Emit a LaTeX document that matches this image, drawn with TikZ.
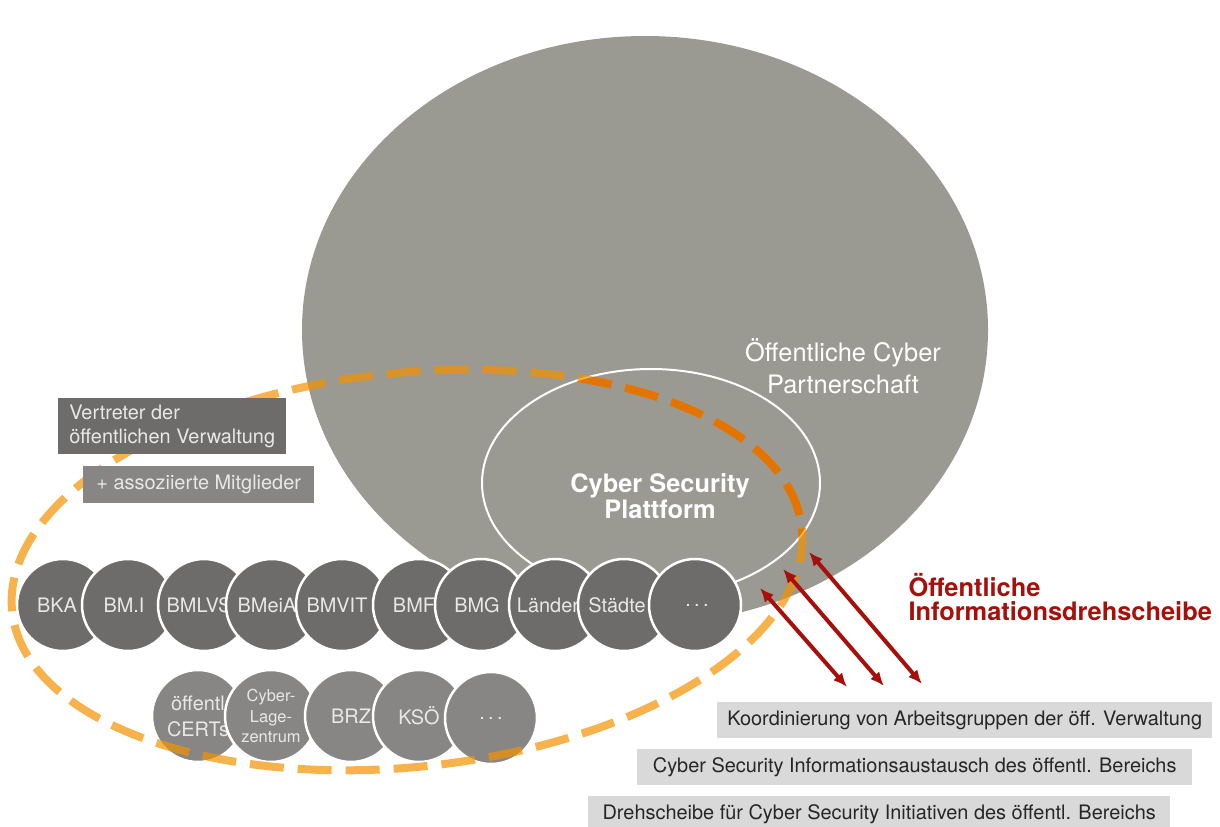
\documentclass[tikz,border=0pt]{standalone}
\usepackage{fontspec}
\setmainfont{TeX Gyre Heros}
\usetikzlibrary{shapes.geometric,arrows.meta,positioning}

\definecolor{partnergray}{RGB}{154,153,146}
\definecolor{memberdark}{RGB}{109,108,106}
\definecolor{memberlight}{RGB}{135,134,132}
\definecolor{membertext}{RGB}{232,232,230}
\definecolor{taskgray}{RGB}{217,217,217}
\definecolor{hubred}{RGB}{168,15,10}
\definecolor{ringorange}{RGB}{243,146,0}
\definecolor{ringdeep}{RGB}{227,116,0}

\tikzset{
  member/.style={circle, fill=memberdark, draw=white, line width=2.5bp,
    minimum size=92bp, inner sep=0pt, text=membertext, align=center,
    font=\fontsize{20}{24}\selectfont},
  associate/.style={member, fill=memberlight},
  membertag/.style={text=membertext, inner sep=0pt, font=\fontsize{20}{24}\selectfont},
  ring/.style={line width=8bp, dash pattern=on 34bp off 14bp},
  rolebox/.style={fill=memberdark, text=membertext, inner sep=0pt,
    font=\fontsize{20}{24}\selectfont},
  taskbox/.style={fill=taskgray, text=black!85, inner sep=0pt,
    minimum height=36bp, font=\fontsize{20}{22}\selectfont},
  hubarrow/.style={draw=hubred, line width=4bp,
    {Latex[length=14bp,width=12bp]}-{Latex[length=14bp,width=12bp]}}
}

\begin{document}
\begin{tikzpicture}[x=1bp, y=-1bp]
\useasboundingbox (0,0) rectangle (1220,827);

% Partnerschaft
\node[ellipse, fill=partnergray, minimum width=686bp, minimum height=588bp,
  inner sep=0pt] (partner) at (645,330) {};
\node[text=white, align=center, font=\fontsize{25.5}{32}\selectfont]
  (partnerlabel) at (843,366) {Öffentliche Cyber\\Partnerschaft};

% Plattform
\node[ellipse, draw=white, line width=2bp, fill=partnergray,
  minimum width=338bp, minimum height=228bp, inner sep=0pt]
  (platform) at (651,483) {};
\node[text=white, align=center, font=\bfseries\fontsize{25.5}{26}\selectfont]
  (platformlabel) at (660,496) {Cyber Security\\Plattform};

% Mitglieder
\foreach \x/\dx/\name/\txt in {63/-6/bka/BKA, 128/-4/bmi/BM.I, 204/-5/bmlvs/BMLVS,
    272/-5/bmeia/BMeiA, 342/-5/bmvit/BMVIT, 419/-5/bmf/BMF, 481/-4/bmg/BMG,
    555/-7/laender/Länder, 624/-7/staedte/Städte, 695/2/more/{.\,.\,.}}
{
  \node[member] (\name) at (\x,605) {};
  \node[membertag] (\name-tag) at (\x+\dx,605) {\txt};
}

% assoziierte Mitglieder
\node[associate, font=\fontsize{20}{26}\selectfont] (certs) at (198,716) {öffentl\\CERTs};
\node[associate, font=\fontsize{16.5}{21}\selectfont] (lage) at (271,716) {Cyber-\\Lage-\\zentrum};
\node[associate] (brz) at (351,716) {BRZ};
\node[associate] (kso) at (419,716) {KSÖ};
\node[associate] (moreassoc) at (491,718) {.\,.\,.};

% Ring
\draw[ring, draw=ringorange, draw opacity=0.7, rotate around={6:(407,570)}]
  (407,570) ellipse [x radius=397, y radius=197];
\begin{scope}
  \clip (651,483) ellipse [x radius=168, y radius=113];
  \draw[ring, draw=ringdeep, rotate around={6:(407,570)}]
    (407,570) ellipse [x radius=397, y radius=197];
\end{scope}

% Vertreter
\node[rolebox, anchor=north west, minimum width=228bp, minimum height=56bp,
  align=left] (rep) at (58,398) {Vertreter der\\öffentlichen Verwaltung};
\node[rolebox, fill=memberlight, anchor=north west, minimum width=231bp,
  minimum height=37bp] (assoc) at (83,466) {+ assoziierte Mitglieder};

% Informationsdrehscheibe
\node[text=hubred, anchor=west, align=left,
  font=\bfseries\fontsize{25.5}{25}\selectfont] (hub) at (905,597)
  {Öffentliche\\Informationsdrehscheibe};

\node[taskbox, anchor=north west, minimum width=495bp] (task1) at (717,702)
  {Koordinierung von Arbeitsgruppen der öff. Verwaltung};
\node[taskbox, anchor=north west, minimum width=555bp] (task2) at (637,749)
  {Cyber Security Informationsaustausch des öffentl. Bereichs};
\node[taskbox, anchor=north west, minimum width=582bp] (task3) at (588,796)
  {Drehscheibe für Cyber Security Initiativen des öffentl. Bereichs};

\coordinate (a1s) at (760,588);
\coordinate (a1e) at (847,687);
\coordinate (a2s) at (783,569);
\coordinate (a2e) at (884,686);
\coordinate (a3s) at (809,552);
\coordinate (a3e) at (922,684);
\draw[hubarrow] (a1s) -- (a1e);
\draw[hubarrow] (a2s) -- (a2e);
\draw[hubarrow] (a3s) -- (a3e);
\end{tikzpicture}
\end{document}
